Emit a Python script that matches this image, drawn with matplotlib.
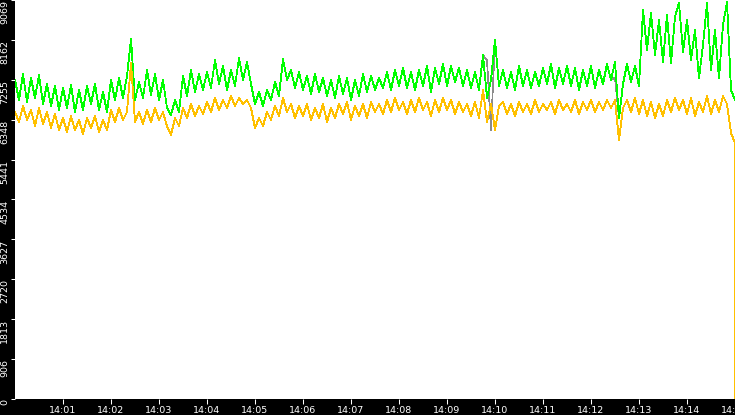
import matplotlib
matplotlib.use("Agg")
import matplotlib.pyplot as plt

# ---- data ----
# sample times in seconds after 14:00:00 (every 5 s)
times = list(range(0, 905, 5))

green = [
    7251,6796,7387,6751,7296,6842,7365,6705,7160,6660,7114,6569,7069,6614,7137,6523,
    7024,6569,7114,6705,7160,6569,6978,6523,7251,6796,7296,6842,7342,8183,6796,7205,
    6842,7478,6910,7387,6796,7251,6614,6455,6796,6523,7342,6887,7478,6978,7387,7024,
    7433,7069,7705,7160,7569,7024,7478,7114,7751,7251,7660,7160,6705,6978,
    6660,7024,6796,7205,6887,7728,7251,7478,7069,7433,7024,7342,6932,7387,6978,7296,
    6887,7251,6842,7342,6932,7296,6796,7251,6887,7387,6978,7342,7024,7296,
    7069,7433,7024,7478,7114,7524,7069,7433,7024,7478,7114,7569,6978,7524,7160,7614,
    7114,7569,7205,7524,7114,7478,7069,7433,7024,7819,6842,7251,8160,7114,
    7478,7069,7433,7024,7569,7114,7478,7069,7433,7114,7524,7160,7614,7069,7524,7160,
    7569,7114,7524,7024,7478,7114,7569,7069,7478,7160,7614,7251,7660,6387,
    7160,7614,7205,7569,7114,8842,7933,8774,7819,8615,7660,8728,7637,8683,9001,7887,
    8615,7705,8387,7296,8046,9001,7478,8387,7296,8501,9024,7024,6796,
]

orange = [
    6523,6296,6660,6342,6569,6205,6614,6251,6523,6160,6478,6114,6387,6069,6432,6114,
    6342,6023,6387,6160,6432,6069,6342,6114,6569,6296,6614,6342,6523,7637,6296,6523,
    6251,6569,6296,6614,6342,6523,6205,6001,6387,6205,6614,6387,6705,6432,6660,6478,
    6751,6523,6842,6569,6796,6614,6887,6660,6842,6705,6796,6614,6160,6387,
    6205,6523,6342,6660,6432,6842,6523,6705,6387,6660,6432,6705,6342,6614,6387,6705,
    6296,6614,6387,6705,6478,6751,6342,6660,6432,6705,6387,6751,6523,6705,
    6478,6796,6523,6842,6569,6751,6478,6796,6523,6842,6569,6751,6432,6796,6523,6842,
    6569,6796,6478,6751,6523,6705,6432,6751,6387,7024,6296,6705,6114,6660,
    6751,6478,6705,6432,6751,6523,6705,6478,6796,6523,6705,6569,6751,6478,6796,6569,
    6705,6523,6796,6478,6751,6569,6796,6523,6751,6569,6796,6614,6796,5887,
    6614,6796,6523,6842,6478,6796,6432,6751,6387,6705,6432,6796,6523,6842,6569,6796,
    6478,6842,6432,6751,6523,6887,6478,6796,6523,6887,6705,6046,5819,
]
# final drop of the orange series at the end of the window
orange_tail_times = [900, 900]
orange_tail = [3159, 0]

# grey series: same as green except where it sticks out
grey_spikes = {595: 6114, 590: 7700, 750: 7300}

xtick_secs = [60, 120, 180, 240, 300, 360, 420, 480, 540, 600, 660, 720, 780, 840, 900]
xtick_labels = ["14:01", "14:02", "14:03", "14:04", "14:05", "14:06", "14:07", "14:08",
                "14:09", "14:10", "14:11", "14:12", "14:13", "14:14", "14:15"]
ytick_vals = [0, 906.9, 1813.8, 2720.7, 3627.6, 4534.5, 5441.4, 6348.3, 7255.2, 8162.1, 9069]
ytick_labels = ["0", "906", "1813", "2720", "3627", "4534", "5441", "6348", "7255", "8162", "9069"]

# ---- plot ----
W, H = 735, 415
fig = plt.figure(figsize=(W / 100, H / 100), dpi=100, facecolor="black")
ax = fig.add_axes([15 / W, 16 / H, 720 / W, 399 / H], facecolor="white")

grey = list(green)
for t, v in grey_spikes.items():
    grey[times.index(t)] = v

ax.plot(times, grey, color="#8c8c8c", lw=0.5, antialiased=False, zorder=2)
ax.plot(times, green, color="#00ff00", lw=0.6, antialiased=False, zorder=3)
ax.plot(times + orange_tail_times, orange + orange_tail, color="#ffc000", lw=0.6,
        antialiased=False, zorder=4)

ax.set_xlim(0, 900)
ax.set_ylim(0, 9069)
for s in ax.spines.values():
    s.set_visible(False)

ax.set_xticks(xtick_secs)
ax.set_xticklabels(xtick_labels, fontsize=6.8, color="white", family="DejaVu Sans")
ax.set_yticks(ytick_vals)
ax.set_yticklabels(ytick_labels, fontsize=6.8, color="white", family="DejaVu Sans",
                   rotation=90, va="top")
ax.tick_params(axis="x", colors="white", length=3.8, width=0.75, pad=1.5, direction="out")
ax.tick_params(axis="y", colors="white", length=3, width=0.75, pad=1.2, direction="out")

fig.savefig("out.png", dpi=100, facecolor="black")
